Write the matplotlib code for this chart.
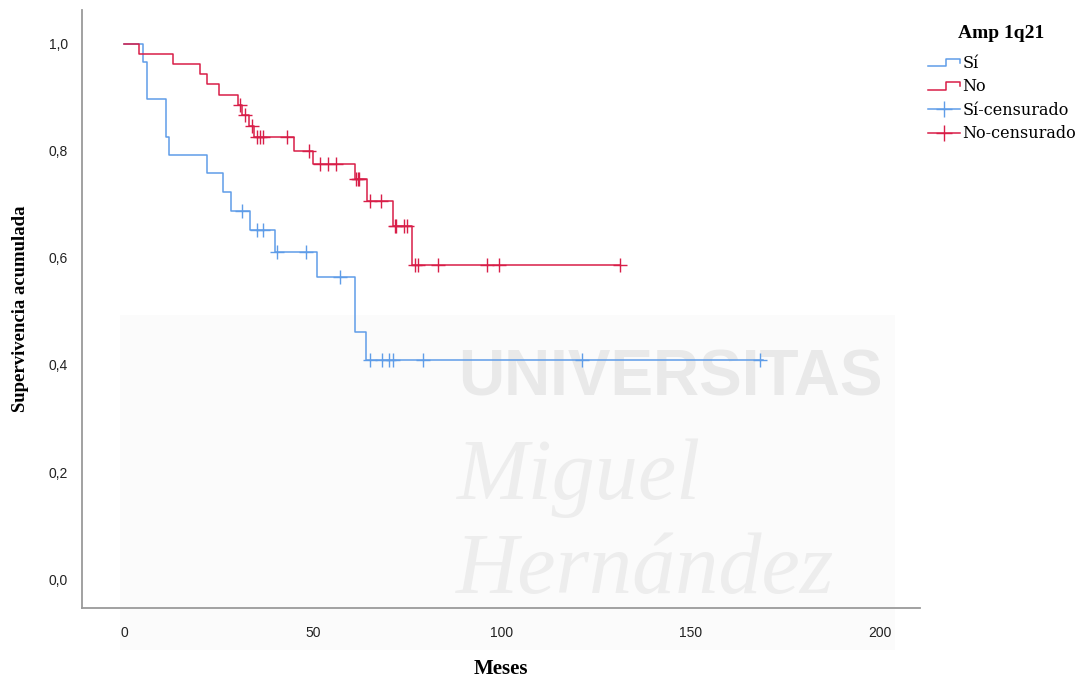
import matplotlib
matplotlib.use("Agg")

import matplotlib.pyplot as plt
from matplotlib.lines import Line2D
from matplotlib.legend_handler import HandlerBase
from matplotlib.patches import Rectangle

# =========================
# Data
# =========================
# Sí group: event times (months) and survival after each event
SI_EVENT_T = [5.1, 6.0, 11.0, 12.0, 22.1, 26.1, 28.3, 33.3, 40.0, 51.1, 61.1, 64.0]
SI_EVENT_S = [0.966, 0.896, 0.826, 0.793, 0.758, 0.723, 0.688, 0.652, 0.611, 0.564, 0.461, 0.409]
SI_END_T = 169.0
SI_CENS_T = [31.1, 35.1, 36.8, 40.4, 48.1, 57.1, 65.1, 68.2, 70.2, 71.1, 79.2, 121.1, 168.3]
SI_CENS_S = [0.688, 0.652, 0.652, 0.611, 0.611, 0.564, 0.409, 0.409, 0.409, 0.409, 0.409, 0.409, 0.409]

# No group
NO_EVENT_T = [4.0, 13.0, 20.1, 22.0, 25.1, 30.3, 31.3, 33.0, 34.5, 45.0, 50.1, 61.0, 64.3, 71.3, 76.3]
NO_EVENT_S = [0.981, 0.962, 0.943, 0.924, 0.904, 0.885, 0.866, 0.846, 0.825, 0.800,
              0.775, 0.747, 0.706, 0.660, 0.587]
NO_END_T = 131.2
NO_CENS_T = [30.6, 32.0, 33.8, 35.3, 36.0, 36.7, 43.2, 49.0, 51.9, 54.0, 56.1,
             61.3, 61.8, 62.2, 65.1, 68.0, 71.6, 72.1, 74.2, 75.0,
             77.0, 77.7, 83.2, 96.1, 99.2, 131.2]
NO_CENS_S = [0.885, 0.866, 0.846, 0.825, 0.825, 0.825, 0.825, 0.800, 0.775, 0.775, 0.775,
             0.747, 0.747, 0.747, 0.706, 0.706, 0.660, 0.660, 0.660, 0.660,
             0.587, 0.587, 0.587, 0.587, 0.587, 0.587]

X_TICKS = [0, 50, 100, 150, 200]
Y_TICKS = [0.0, 0.2, 0.4, 0.6, 0.8, 1.0]
Y_TICKLABELS = ["0,0", "0,2", "0,4", "0,6", "0,8", "1,0"]

LEGEND_TITLE = "Amp 1q21"
LEGEND_LABELS = ["Sí", "No", "Sí-censurado", "No-censurado"]

# =========================
# Style
# =========================
BLUE = "#5f9de8"
RED = "#d81e48"
SPINE = "#9a9a9a"
WM = "#ededed"

SERIF = "Liberation Serif"
SANS = "Liberation Sans"


class StepHandler(HandlerBase):
    # little step glyph like SPSS legend
    def create_artists(self, legend, orig_handle, xdescent, ydescent,
                       width, height, fontsize, trans):
        lo, hi = height * 0.15, height * 0.8
        xm = width * 0.55
        xs = [0, xm, xm, width, width]
        ys = [lo, lo, hi, hi, height * 0.45]
        ln = Line2D([x - xdescent for x in xs], [y - ydescent for y in ys],
                    color=orig_handle.get_color(), lw=orig_handle.get_linewidth())
        ln.set_transform(trans)
        return [ln]


def steps(ev_t, ev_s, end_t):
    t = [0.0] + list(ev_t) + [end_t]
    s = [1.0] + list(ev_s) + [ev_s[-1]]
    return t, s


fig = plt.figure(figsize=(10.83, 6.79), dpi=100)
fig.patch.set_facecolor("white")

# faint watermark in the background
fig.add_artist(Rectangle((120 / 1083, 1 - 650 / 679), 775 / 1083, 335 / 679,
                         transform=fig.transFigure, facecolor="#fbfbfb",
                         edgecolor="none", zorder=-2))
fig.text(670 / 1083, 1 - 378 / 679, "UNIVERSITAS", ha="center", va="center",
         fontsize=46, fontweight="bold", family=SANS, color="#e9e9e9", zorder=-1)
fig.text(578 / 1083, 1 - 478 / 679, "Miguel", ha="center", va="center",
         fontsize=62, style="italic", family=SERIF, color=WM, zorder=-1)
fig.text(645 / 1083, 1 - 572 / 679, "Hernández", ha="center", va="center",
         fontsize=62, style="italic", family=SERIF, color=WM, zorder=-1)

ax = fig.add_axes([82 / 1083, 1 - 608 / 679, (920 - 82) / 1083, (608 - 10) / 679])
ax.set_facecolor("none")

t, s = steps(SI_EVENT_T, SI_EVENT_S, SI_END_T)
ax.step(t, s, where="post", color=BLUE, lw=1.1)
t, s = steps(NO_EVENT_T, NO_EVENT_S, NO_END_T)
ax.step(t, s, where="post", color=RED, lw=1.1)

ax.plot(SI_CENS_T, SI_CENS_S, ls="none", marker="+", ms=10, mew=1.0, color=BLUE)
ax.plot(NO_CENS_T, NO_CENS_S, ls="none", marker="+", ms=10, mew=1.0, color=RED)

ax.set_xlim(-11.1, 210.6)
ax.set_ylim(-0.054, 1.063)

ax.set_xticks(X_TICKS)
ax.set_xticklabels([str(v) for v in X_TICKS], family=SANS, fontsize=10, color="#222222")
ax.set_yticks(Y_TICKS)
ax.set_yticklabels(Y_TICKLABELS, family=SANS, fontsize=10, color="#222222")
ax.tick_params(axis="x", length=0, pad=13)
ax.tick_params(axis="y", length=0, pad=10)

for side in ("top", "right"):
    ax.spines[side].set_visible(False)
for side in ("left", "bottom"):
    ax.spines[side].set_color(SPINE)
    ax.spines[side].set_linewidth(1.3)

ax.set_xlabel("Meses", family=SERIF, fontweight="bold", fontsize=15, labelpad=14)
ax.set_ylabel("Supervivencia acumulada", family=SERIF, fontweight="bold",
              fontsize=13.5, labelpad=14)

# legend (title drawn separately so the gap can match)
fig.text(1001 / 1083, 1 - 33 / 679, LEGEND_TITLE, ha="center", va="center",
         family=SERIF, fontweight="bold", fontsize=14)

h_si = Line2D([], [], color=BLUE, lw=1.1)
h_no = Line2D([], [], color=RED, lw=1.1)
h_si_c = Line2D([], [], color=BLUE, lw=1.1, marker="+", ms=12, mew=1.0)
h_no_c = Line2D([], [], color=RED, lw=1.1, marker="+", ms=12, mew=1.0)
leg = fig.legend(
    [h_si, h_no, h_si_c, h_no_c], LEGEND_LABELS,
    loc="upper left", bbox_to_anchor=(928 / 1083, 1 - 55 / 679),
    frameon=False, numpoints=1, handlelength=2.0, handletextpad=0.15,
    labelspacing=0.40, borderaxespad=0, borderpad=0,
    handler_map={h_si: StepHandler(), h_no: StepHandler()},
    prop={"family": "DejaVu Serif", "size": 11.5},
)

fig.savefig("out.png", dpi=100)
plt.close(fig)
